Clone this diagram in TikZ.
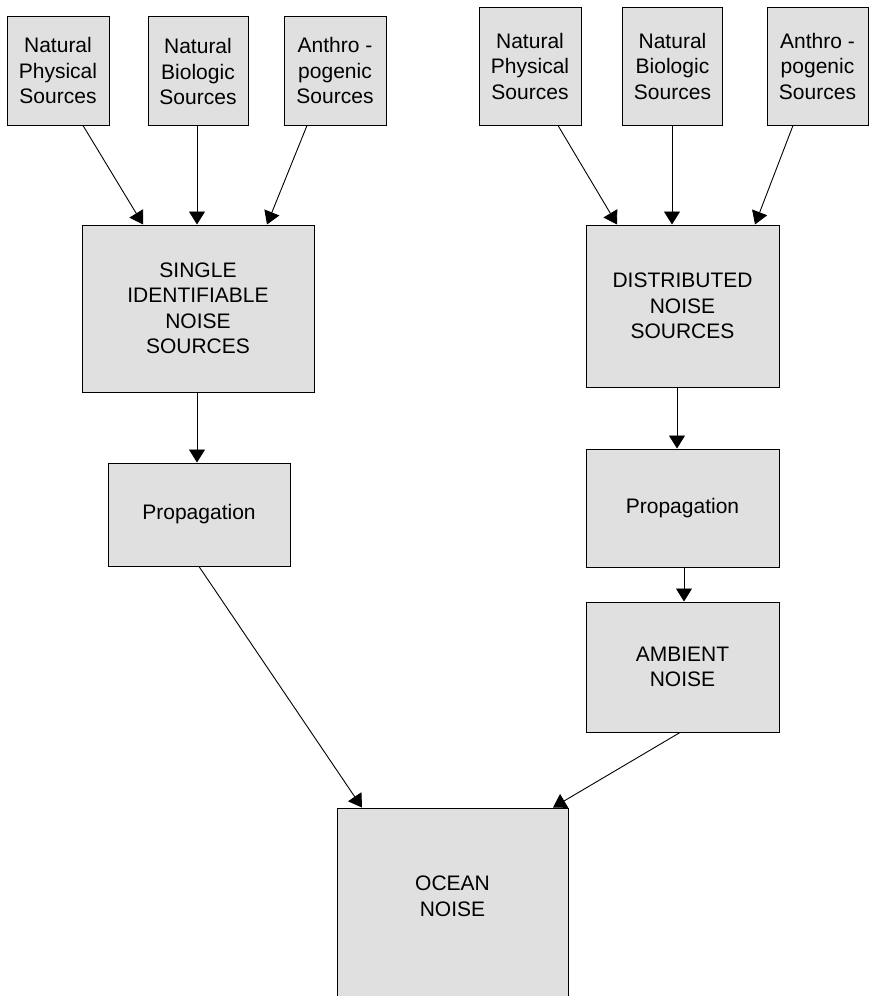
\documentclass[tikz,border=0pt]{standalone}
\usepackage{fontspec}
\setmainfont{Liberation Sans}
\usetikzlibrary{arrows.meta}
\definecolor{boxgray}{RGB}{224,224,224}
\begin{document}
\begin{tikzpicture}[x=1pt,y=-1pt,
  box/.style={draw=black,line width=1pt,fill=boxgray,rectangle,inner sep=0pt,
    align=center,font=\fontsize{21}{25.5}\selectfont},
  arr/.style={line width=0.9pt,-{Triangle[length=13pt,width=16pt]}}]
\useasboundingbox (0,0) rectangle (870,996);
\fill[white] (0,0) rectangle (870,996);
% top row left
\node[box,minimum width=102pt,minimum height=109pt] (b1) at (58,70.5) {Natural\\Physical\\Sources};
\node[box,minimum width=100pt,minimum height=109pt] (b2) at (198,70.5) {\strut Natural\\Biologic\\Sources};
\node[box,minimum width=102pt,minimum height=109pt] (b3) at (335,70.5) {Anthro -\\pogenic\\Sources};
% top row right
\node[box,minimum width=102pt,minimum height=118pt] (b4) at (530,66) {Natural\\Physical\\Sources};
\node[box,minimum width=100pt,minimum height=118pt] (b5) at (672.5,66) {Natural\\Biologic\\Sources};
\node[box,minimum width=101pt,minimum height=118pt] (b6) at (817.5,66) {Anthro -\\pogenic\\Sources};
% middle
\node[box,minimum width=232pt,minimum height=167pt] (single) at (198,308.5) {SINGLE\\IDENTIFIABLE\\NOISE\\SOURCES};
\node[box,minimum width=193pt,minimum height=162pt] (dist) at (682.5,306) {DISTRIBUTED\\NOISE\\SOURCES};
\node[box,minimum width=182pt,minimum height=103pt] (propL) at (199,514.5) {Propagation};
\node[box,minimum width=193pt,minimum height=118pt] (propR) at (682.5,508) {Propagation};
\node[box,minimum width=193pt,minimum height=130pt] (amb) at (682.5,667) {AMBIENT\\NOISE};
\node[box,minimum width=231pt,minimum height=196pt] (ocean) at (452.5,906) {};
\node[font=\fontsize{21}{25.5}\selectfont,align=center,inner sep=0pt] (oceantxt) at (452.5,896.5) {OCEAN\\NOISE};
% arrows
\draw[arr] (b1.south -| 83,0) -- (single.north -| 143,0);
\draw[arr] (b2.south -| 197,0) -- (single.north -| 197,0);
\draw[arr] (b3.south -| 307,0) -- (single.north -| 267,0);
\draw[arr] (b4.south -| 558,0) -- (dist.north -| 617,0);
\draw[arr] (b5.south -| 672,0) -- (dist.north -| 672,0);
\draw[arr] (b6.south -| 793,0) -- (dist.north -| 755,0);
\draw[arr] (single.south -| 197,0) -- (propL.north -| 197,0);
\draw[arr] (dist.south -| 677,0) -- (propR.north -| 677,0);
\draw[arr] (propR.south -| 684,0) -- (amb.north -| 684,0);
\draw[arr] (propL.south -| 199,0) -- (ocean.north -| 362,0);
\draw[arr] (amb.south -| 680,0) -- (ocean.north -| 553,0);
\end{tikzpicture}
\end{document}
